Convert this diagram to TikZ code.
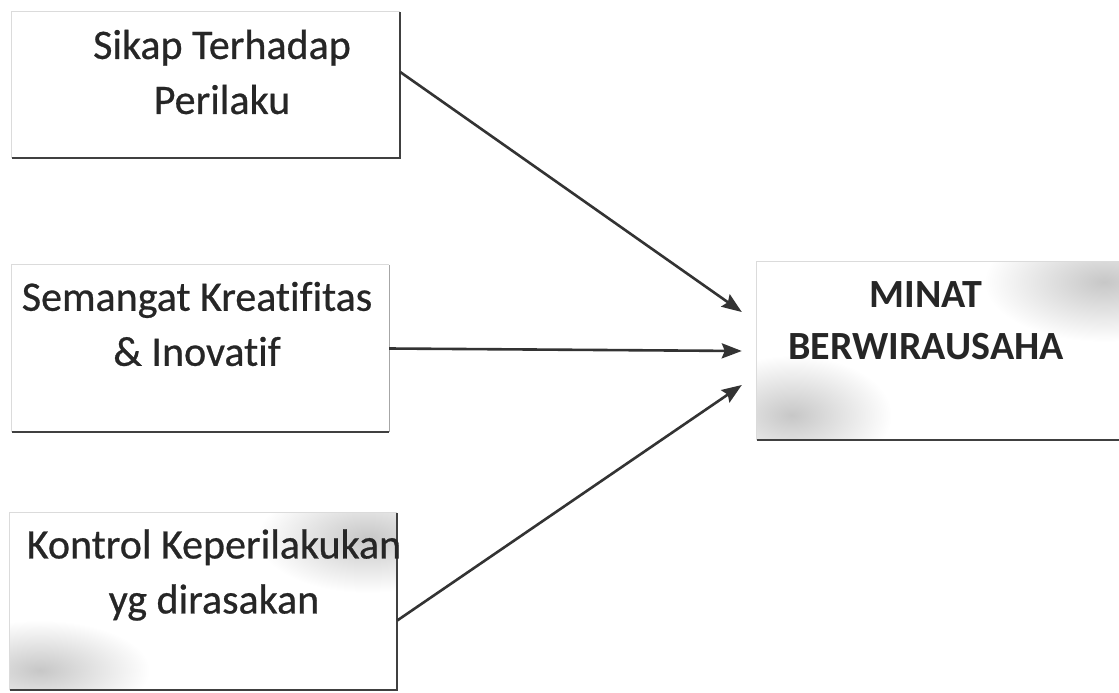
\documentclass[tikz,border=0pt]{standalone}
\usepackage{fontspec}
\setmainfont[Ligatures=NoCommon]{Carlito}
\newfontfamily\lblfont[Ligatures=NoCommon,FakeBold=0.6]{Carlito}
\usetikzlibrary{arrows.meta,calc}
\tikzset{
  boxshape/.style={draw=none,rectangle,inner sep=0pt},
  lbl/.style={align=center,font=\lblfont\fontsize{42}{55}\selectfont,text=black!85},
  lblb/.style={align=center,font=\bfseries\fontsize{40}{52}\selectfont,text=black!85},
  darkedge/.style={draw=black!75,line width=2.4pt},
  lightedge/.style={draw=black!14,line width=1.2pt},
  midedge/.style={draw=black!35,line width=1.4pt},
  arr/.style={draw=black!80,line width=2.6pt,-{Stealth[length=20pt,width=15pt,inset=3pt]}},
  smudge/.style={inner color=black!22,outer color=white},
}
\begin{document}
\begin{tikzpicture}[x=1pt,y=-1pt]
\useasboundingbox[fill=white] (0,0) rectangle (1119,693);
% boxes
\node[boxshape,minimum width=388pt,minimum height=146pt] (b1) at (206,85) {};
\node[boxshape,minimum width=377pt,minimum height=167pt] (b2) at (200.5,348.5) {};
\node[boxshape,minimum width=387pt,minimum height=177pt] (b3) at (203.5,601.5) {};
\node[boxshape,minimum width=362pt,minimum height=178pt] (b4) at (938,351) {};
% smudges (scan shading)
\begin{scope}
\clip (b3.south west) rectangle (b3.north east);
\shade[smudge] ($(b3.north east)+(-30,25)$) ellipse (110pt and 55pt);
\shade[smudge] ($(b3.south west)+(30,-20)$) ellipse (110pt and 50pt);
\end{scope}
\begin{scope}
\clip (b4.south west) rectangle (b4.north east);
\shade[smudge] ($(b4.north east)+(-15,20)$) ellipse (120pt and 60pt);
\shade[smudge] ($(b4.south west)+(35,-25)$) ellipse (100pt and 60pt);
\end{scope}
% edges box1
\draw[lightedge] (b1.south west) -- (b1.north west) -- (b1.north east);
\draw[darkedge] (b1.south west) -- (b1.south east) -- (b1.north east);
% box2
\draw[lightedge] (b2.south west) -- (b2.north west) -- (b2.north east);
\draw[midedge] (b2.north east) -- (b2.south east);
\draw[darkedge] (b2.south west) -- (b2.south east);
% box3
\draw[lightedge] (b3.south west) -- (b3.north west) -- (b3.north east);
\draw[darkedge] (b3.south west) -- (b3.south east) -- (b3.north east);
% box4
\draw[lightedge] (b4.south west) -- (b4.north west) -- (b4.north east);
\draw[darkedge] (b4.south west) -- (b4.south east);
% labels
\node[lbl] (t1) at (222,72) {Sikap Terhadap\\Perilaku};
\node[lbl] (t2) at (197,324) {Semangat Kreatifitas\\\& Inovatif};
\node[lbl] (t3) at (214,575) {Kontrol Keperilakukan\\yg dirasakan};
\node[lblb] (t4) at (926,321) {MINAT\\BERWIRAUSAHA};
% arrow ends
\coordinate (e1) at ($(b4.west)+(-15,-39)$);
\coordinate (e2) at ($(b4.west)+(-15,0)$);
\coordinate (e3) at ($(b4.west)+(-15,34)$);
\draw[arr] (b1.east |- t1) -- (e1);
\draw[arr] (b2.east) -- (e2);
\draw[arr] ($(b3.east)+(0,19)$) -- (e3);
\end{tikzpicture}
\end{document}
